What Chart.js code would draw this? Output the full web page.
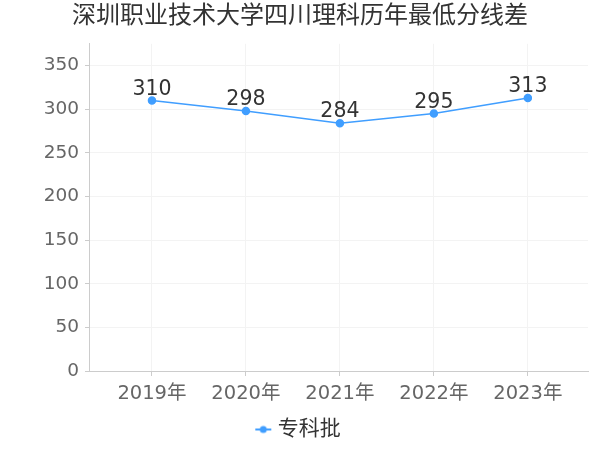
<!DOCTYPE html>
<html>
<head>
<meta charset="utf-8">
<script src="https://cdn.jsdelivr.net/npm/chart.js@4/dist/chart.umd.min.js"></script>
<style>
  body { margin: 0; background: #fff; }
  #wrap { width: 600px; height: 450px; }
</style>
</head>
<body>
<div id="wrap"><canvas id="myChart"></canvas></div>
<script>
const years = ['2019年', '2020年', '2021年', '2022年', '2023年'];
const scores = [310, 298, 284, 295, 313];
const seriesName = '专科批';
const yTicks = [0, 50, 100, 150, 200, 250, 300, 350];

const font = '"DejaVu Sans", "Noto Sans CJK SC", sans-serif';
const blue = 'rgb(64, 158, 255)';

// legend marker: short line with a dot
const marker = document.createElement('canvas');
marker.width = 18;
marker.height = 10;
(function () {
    const m = marker.getContext('2d');
    m.strokeStyle = blue;
    m.lineWidth = 2;
    m.beginPath(); m.moveTo(1, 5); m.lineTo(17, 5); m.stroke();
    m.fillStyle = blue;
    m.beginPath(); m.arc(9, 5, 3.5, 0, Math.PI * 2); m.fill();
})();

// value labels above each point
const pointLabels = {
    id: 'pointLabels',
    afterDatasetsDraw(chart) {
        const c = chart.ctx;
        const meta = chart.getDatasetMeta(0);
        c.save();
        c.font = '20.5px ' + font;
        c.fillStyle = '#333';
        c.textAlign = 'center';
        c.textBaseline = 'bottom';
        meta.data.forEach((pt, i) => {
            c.fillText(String(scores[i]), pt.x, pt.y - 1);
        });
        c.restore();
    }
};

new Chart(document.getElementById('myChart'), {
    type: 'line',
    data: {
        datasets: [{
            label: seriesName,
            data: scores.map((v, i) => ({ x: i, y: v })),
            borderColor: blue,
            backgroundColor: blue,
            borderWidth: 1.5,
            pointRadius: 3.5,
            pointHoverRadius: 3.5,
            tension: 0
        }]
    },
    options: {
        responsive: true,
        maintainAspectRatio: false,
        animation: false,
        layout: { padding: 0 },
        scales: {
            x: {
                type: 'linear',
                min: -0.67,
                max: 4.64,
                afterFit: s => { s.height = 38; },
                ticks: {
                    stepSize: 1,
                    includeBounds: false,
                    autoSkip: false,
                    maxRotation: 0,
                    color: '#666',
                    font: { size: 19.5, family: font },
                    padding: 6,
                    callback: v => years[v] || ''
                },
                grid: { color: '#f3f3f3', tickLength: 5, tickColor: '#ccc' },
                border: { color: '#ccc' }
            },
            y: {
                min: 0,
                max: 375,
                afterBuildTicks: s => { s.ticks = yTicks.map(v => ({ value: v })); },
                afterFit: s => { s.width = 89; },
                ticks: {
                    color: '#666',
                    font: { size: 18.5, family: font },
                    padding: 6
                },
                grid: { color: '#f3f3f3', tickLength: 4, tickColor: '#ccc' },
                border: { color: '#ccc' }
            },
            // empty strip on the right so the plot ends at 588px
            y2: {
                position: 'right',
                afterFit: s => { s.width = 12; },
                ticks: { display: false },
                grid: { display: false },
                border: { display: false }
            }
        },
        plugins: {
            title: {
                display: true,
                text: '深圳职业技术大学四川理科历年最低分线差',
                color: '#333',
                font: { size: 24, family: font, weight: 'normal' },
                padding: { top: 2, bottom: 13 }
            },
            legend: {
                position: 'bottom',
                labels: {
                    color: '#333',
                    font: { size: 21, family: font },
                    usePointStyle: true,
                    pointStyle: marker,
                    pointStyleWidth: 8,
                    padding: 10
                }
            },
            tooltip: { enabled: false }
        }
    },
    plugins: [pointLabels]
});
</script>
</body>
</html>
